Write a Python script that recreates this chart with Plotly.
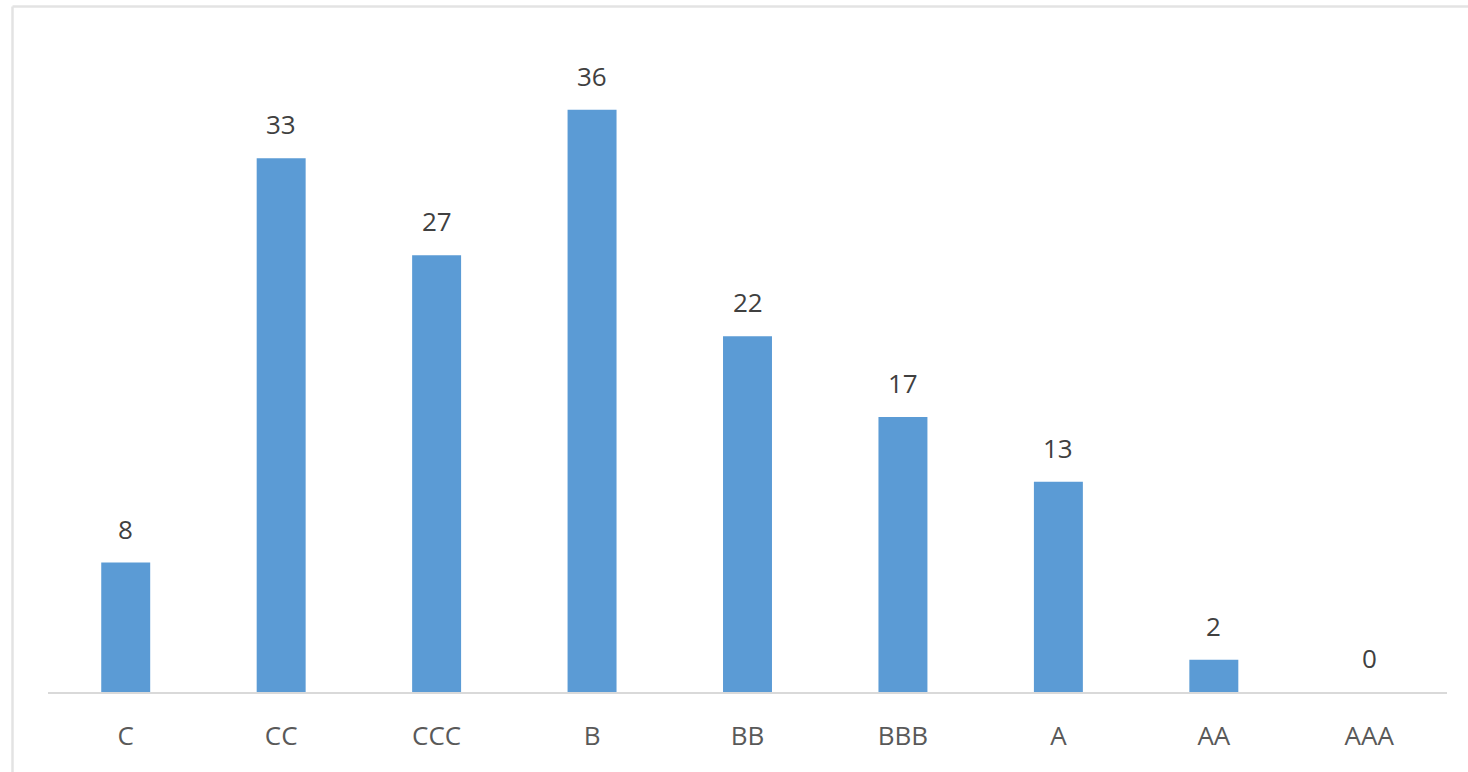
import plotly.graph_objects as go

categories = ["C", "CC", "CCC", "B", "BB", "BBB", "A", "AA", "AAA"]
values = [8, 33, 27, 36, 22, 17, 13, 2, 0]

W, H = 1468, 772
L, R, T, B = 48, 21, 45, 80
pw, ph = W - L - R, H - T - B

FONT = "Open Sans"

fig = go.Figure()
fig.add_trace(go.Bar(x=categories, y=values, marker=dict(color="#5b9bd5", line=dict(width=0)),
                     hoverinfo="x+y"))

for c, v in zip(categories, values):
    fig.add_annotation(x=c, y=v, text=str(v), showarrow=False, yanchor="bottom",
                       yshift=14, font=dict(family=FONT, size=26, color="#404040"))

def px2x(p):
    return (p - L) / pw

def py2y(p):
    return (H - B - p) / ph

border = "#e3e3e3"
fig.add_shape(type="line", xref="paper", yref="paper", x0=px2x(12.5), x1=px2x(12.5),
              y0=py2y(H + 5), y1=py2y(6.5), line=dict(color=border, width=2.5))
fig.add_shape(type="line", xref="paper", yref="paper", x0=px2x(12.5), x1=px2x(W + 5),
              y0=py2y(6.5), y1=py2y(6.5), line=dict(color=border, width=2.5))

fig.update_layout(
    width=W, height=H,
    margin=dict(l=L, r=R, t=T, b=B, autoexpand=False),
    paper_bgcolor="white", plot_bgcolor="white",
    bargap=0.685, showlegend=False,
    font=dict(family=FONT, size=26, color="#595959"),
    xaxis=dict(showgrid=False, showline=True, linecolor="#d9d9d9", linewidth=2,
               ticks="", ticklabelstandoff=20, tickfont=dict(family=FONT, size=26, color="#595959")),
    yaxis=dict(range=[0, 40], visible=False, fixedrange=True),
)

fig.write_html("out.html", config={"displayModeBar": False},
               post_script="document.body.style.margin='0';document.body.style.overflow='hidden';")
